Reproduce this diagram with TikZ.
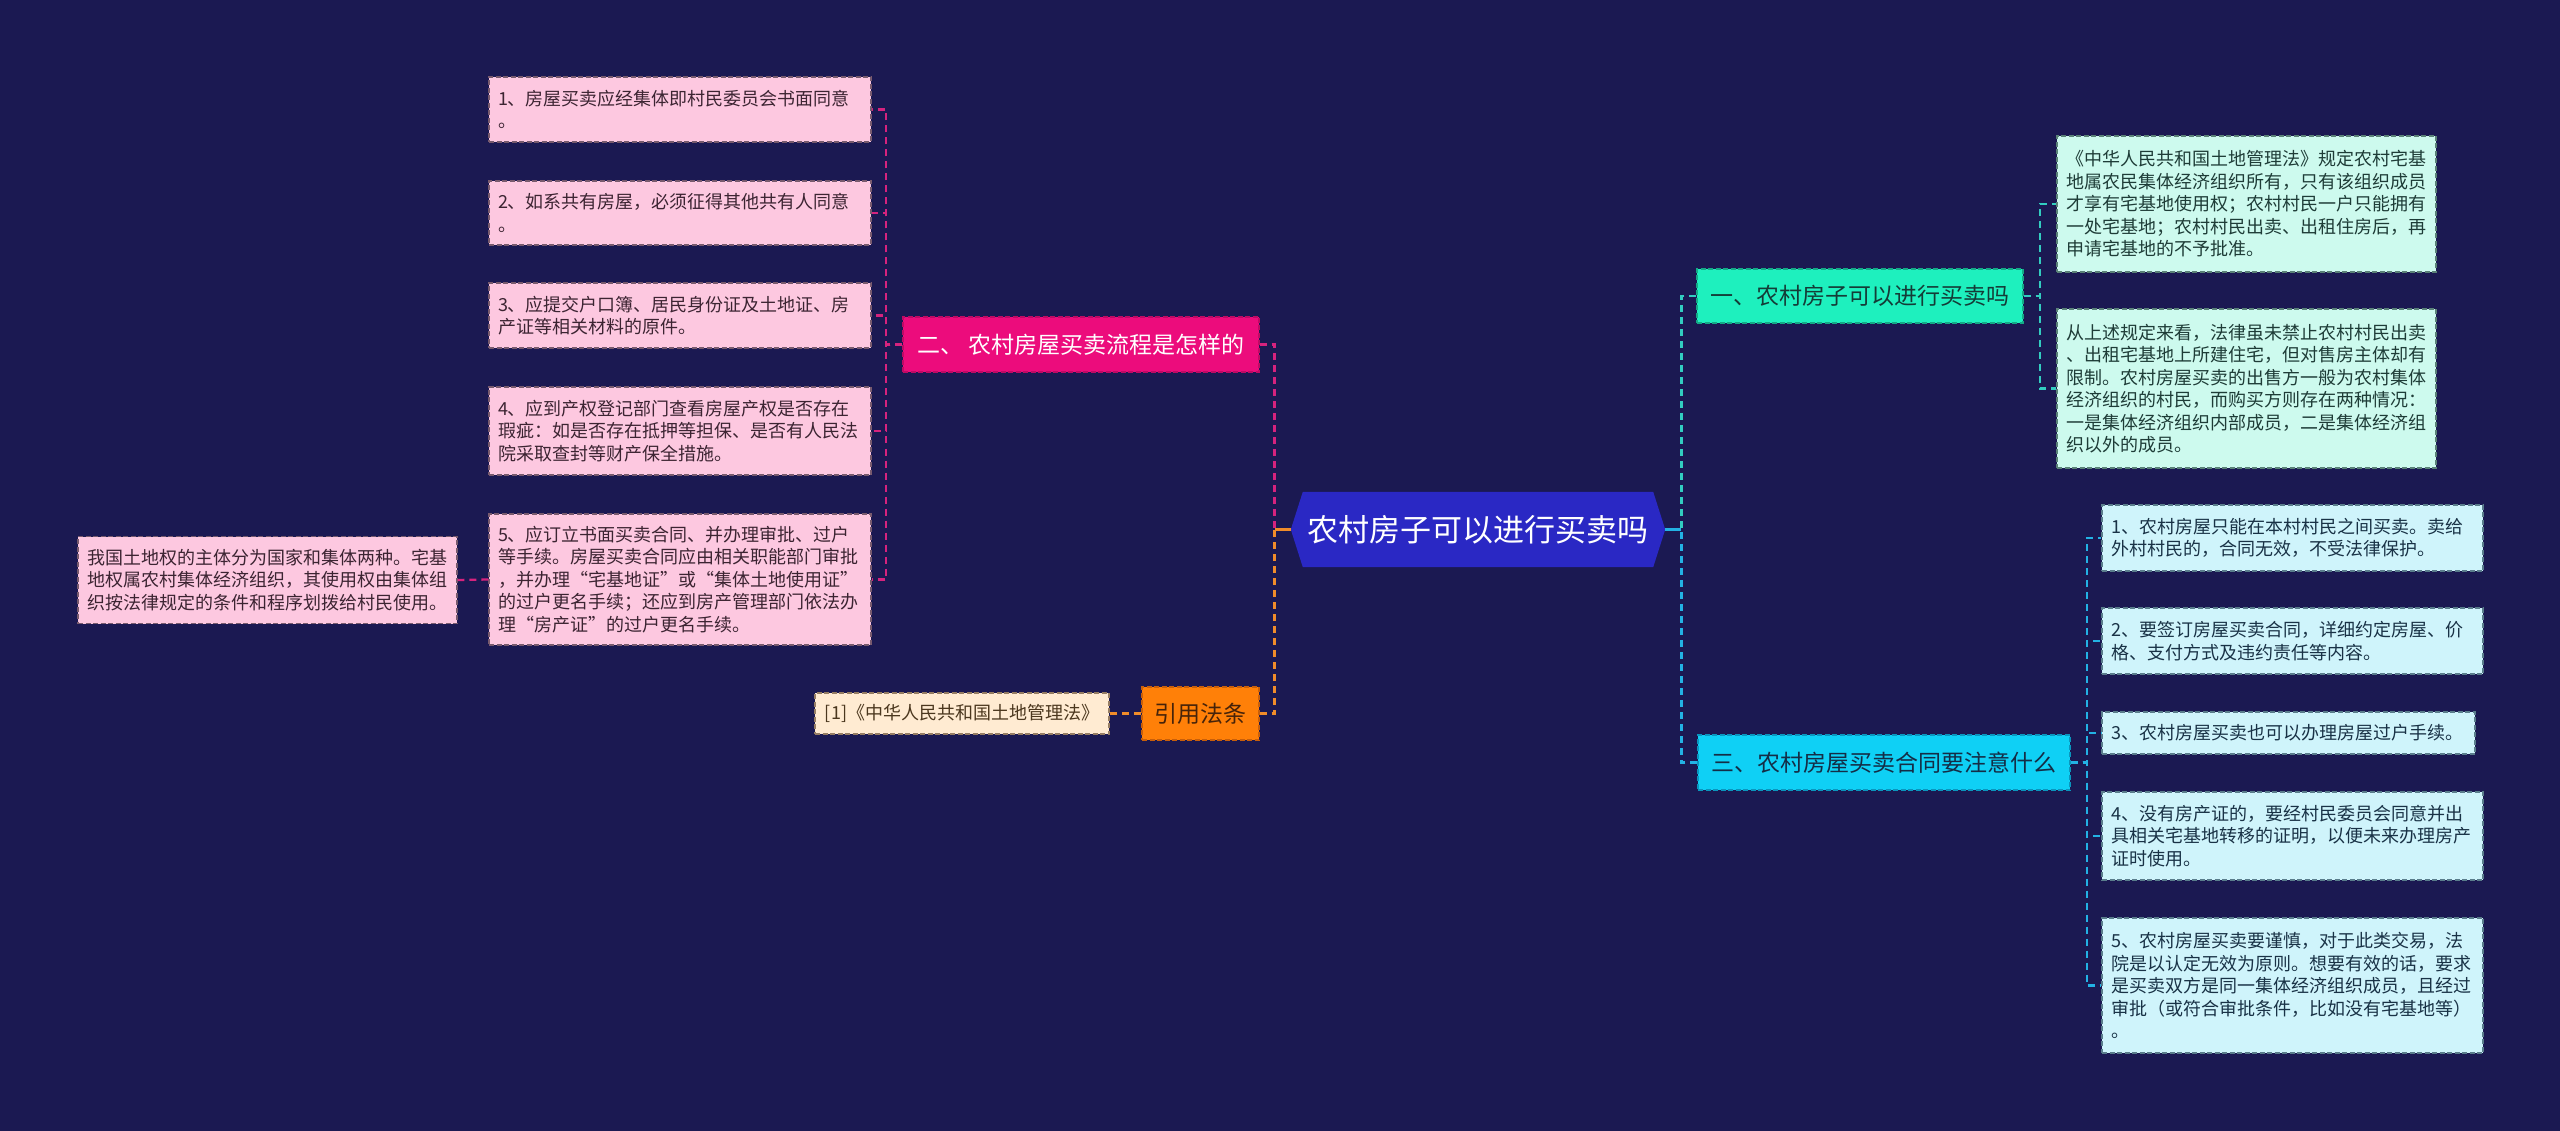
\documentclass[tikz,border=0pt]{standalone}
\usepackage{fontspec}
\setmainfont{Noto Sans CJK SC}
\usetikzlibrary{calc}
\definecolor{bgc}{RGB}{27,25,82}
\definecolor{rootc}{RGB}{42,40,196}
\definecolor{magf}{RGB}{236,12,124}
\definecolor{magd}{RGB}{190,10,100}
\definecolor{magl}{RGB}{214,35,126}
\definecolor{pinkf}{RGB}{253,200,224}
\definecolor{pinkd}{RGB}{120,90,110}
\definecolor{pinkt}{RGB}{60,36,50}
\definecolor{orf}{RGB}{255,128,8}
\definecolor{ord}{RGB}{200,95,10}
\definecolor{orl}{RGB}{240,140,42}
\definecolor{ort}{RGB}{70,35,10}
\definecolor{peachf}{RGB}{255,235,210}
\definecolor{peachd}{RGB}{150,125,100}
\definecolor{peacht}{RGB}{75,55,30}
\definecolor{tealf}{RGB}{30,240,190}
\definecolor{teald}{RGB}{20,170,135}
\definecolor{teall}{RGB}{50,205,192}
\definecolor{tealt}{RGB}{20,60,55}
\definecolor{mintf}{RGB}{205,250,238}
\definecolor{mintd}{RGB}{90,130,120}
\definecolor{mintt}{RGB}{30,60,55}
\definecolor{cyanf}{RGB}{15,208,245}
\definecolor{cyand}{RGB}{10,150,190}
\definecolor{cyanl}{RGB}{35,178,228}
\definecolor{cyant}{RGB}{20,45,70}
\definecolor{icef}{RGB}{207,244,251}
\definecolor{iced}{RGB}{90,125,140}
\definecolor{icet}{RGB}{25,50,70}
\pgfdeclarelayer{bgl}
\pgfdeclarelayer{midl}
\pgfsetlayers{bgl,midl,main}
\tikzset{
  leafbox/.style={draw, line width=1.2pt, dash pattern=on 5pt off 2.5pt, inner xsep=9pt, inner ysep=0pt,
    align=left, font=\fontsize{18pt}{22.5pt}\selectfont},
  pinkleaf/.style={leafbox, fill=pinkf, draw=pinkd, text=pinkt},
  mintleaf/.style={leafbox, fill=mintf, draw=mintd, text=mintt},
  iceleaf/.style={leafbox, fill=icef, draw=iced, text=icet},
  branchbox/.style={draw, line width=1.4pt, dash pattern=on 5pt off 2.5pt, inner sep=0pt,
    align=center, font=\fontsize{23pt}{28pt}\selectfont},
  conn/.style={line width=2.3pt, dash pattern=on 7pt off 5pt},
  mline/.style={conn, draw=magl},
  oline/.style={conn, draw=orl},
  tline/.style={conn, draw=teall},
  cline/.style={conn, draw=cyanl},
}
\begin{document}
\begin{tikzpicture}[x=1pt,y=-1pt]
\begin{pgfonlayer}{bgl}
\fill[bgc] (0,0) rectangle (2560,1131);
\end{pgfonlayer}
\useasboundingbox (0,0) rectangle (2560,1131);

% root
\node[inner sep=0pt, minimum width=350pt, minimum height=75pt, text=white,
  font=\fontsize{31pt}{36pt}\selectfont] (root) at (1478,529.5) {农村房子可以进行买卖吗};
\coordinate (rootL) at ($(root.west)+(-12,0)$);
\coordinate (rootR) at ($(root.east)+(12,0)$);
\begin{pgfonlayer}{midl}
\fill[rootc] (root.north west) -- (root.north east) -- (rootR) -- (root.south east)
  -- (root.south west) -- (rootL) -- cycle;
\end{pgfonlayer}

% left branch: magenta
\node[branchbox, fill=magf, draw=magd, text=white, minimum width=356pt, minimum height=55pt]
  (m) at (1081,344.5) {二、 农村房屋买卖流程是怎样的};
\node[pinkleaf, text width=364pt, minimum height=65pt] (L1) at (680,109.5)
  {1、房屋买卖应经集体即村民委员会书面同意\\。};
\node[pinkleaf, text width=364pt, minimum height=64pt] (L2) at (680,213)
  {2、如系共有房屋，必须征得其他共有人同意\\。};
\node[pinkleaf, text width=364pt, minimum height=65pt] (L3) at (680,315.5)
  {3、应提交户口簿、居民身份证及土地证、房\\产证等相关材料的原件。};
\node[pinkleaf, text width=364pt, minimum height=88pt] (L4) at (680,431)
  {4、应到产权登记部门查看房屋产权是否存在\\瑕疵：如是否存在抵押等担保、是否有人民法\\院采取查封等财产保全措施。};
\node[pinkleaf, text width=364pt, minimum height=131pt] (L5) at (680,579.5)
  {5、应订立书面买卖合同、并办理审批、过户\\等手续。房屋买卖合同应由相关职能部门审批\\，并办理“宅基地证”或“集体土地使用证”\\的过户更名手续；还应到房产管理部门依法办\\理“房产证”的过户更名手续。};
\node[pinkleaf, text width=361pt, minimum height=87pt] (L0) at (267.5,580)
  {我国土地权的主体分为国家和集体两种。宅基\\地权属农村集体经济组织，其使用权由集体组\\织按法律规定的条件和程序划拨给村民使用。};

% left branch: orange
\node[branchbox, fill=orf, draw=ord, text=ort, minimum width=117pt, minimum height=53pt]
  (law) at (1200.5,713.5) {引用法条};
\node[leafbox, fill=peachf, draw=peachd, text=peacht, align=center, minimum width=294pt, minimum height=41pt]
  (lawleaf) at (962,713.5) {[1]《中华人民共和国土地管理法》};

% right branch: teal
\node[branchbox, fill=tealf, draw=teald, text=tealt, minimum width=326pt, minimum height=54pt]
  (t) at (1860,296) {一、农村房子可以进行买卖吗};
\node[mintleaf, text width=361pt, minimum height=136pt] (A) at (2246.5,204)
  {《中华人民共和国土地管理法》规定农村宅基\\地属农民集体经济组织所有，只有该组织成员\\才享有宅基地使用权；农村村民一户只能拥有\\一处宅基地；农村村民出卖、出租住房后，再\\申请宅基地的不予批准。};
\node[mintleaf, text width=361pt, minimum height=159pt] (B) at (2246.5,388.5)
  {从上述规定来看，法律虽未禁止农村村民出卖\\、出租宅基地上所建住宅，但对售房主体却有\\限制。农村房屋买卖的出售方一般为农村集体\\经济组织的村民，而购买方则存在两种情况：\\一是集体经济组织内部成员，二是集体经济组\\织以外的成员。};

% right branch: cyan
\node[branchbox, fill=cyanf, draw=cyand, text=cyant, minimum width=372pt, minimum height=55pt]
  (c) at (1884,762.5) {三、农村房屋买卖合同要注意什么};
\node[iceleaf, text width=363pt, minimum height=66pt] (R1) at (2292.5,538)
  {1、农村房屋只能在本村村民之间买卖。卖给\\外村村民的，合同无效，不受法律保护。};
\node[iceleaf, text width=363pt, minimum height=66pt] (R2) at (2292.5,641)
  {2、要签订房屋买卖合同，详细约定房屋、价\\格、支付方式及违约责任等内容。};
\node[iceleaf, text width=355pt, minimum height=42pt] (R3) at (2288.5,733)
  {3、农村房屋买卖也可以办理房屋过户手续。};
\node[iceleaf, text width=363pt, minimum height=88pt] (R4) at (2292.5,836)
  {4、没有房产证的，要经村民委员会同意并出\\具相关宅基地转移的证明，以便未来办理房产\\证时使用。};
\node[iceleaf, text width=363pt, minimum height=135pt] (R5) at (2292.5,985.5)
  {5、农村房屋买卖要谨慎，对于此类交易，法\\院是以认定无效为原则。想要有效的话，要求\\是买卖双方是同一集体经济组织成员，且经过\\审批（或符合审批条件，比如没有宅基地等）\\。};

% connectors: root
\coordinate (jl) at ($(rootL)+(-16,0)$);
\coordinate (jr) at ($(rootR)+(16,0)$);
\draw[line width=2.8pt, draw=orl] (rootL) -- (jl);
\draw[line width=2.8pt, draw=cyanl] (rootR) -- (jr);
\draw[mline, line width=2.8pt] (m.east) -| (jl);
\draw[oline, line width=2.8pt] (law.east) -| (jl);
\draw[tline, line width=2.8pt] (t.west) -| (jr);
\draw[cline, line width=2.8pt] (c.west) -| (jr);

% connectors: magenta branch
\foreach \n in {L1,L2,L3,L4,L5}
  \draw[mline] (m.west) -- ++(-16,0) |- (\n.east);
\draw[mline] (L5.west) -- (L0.east);
% orange branch
\draw[oline] (law.west) -- (lawleaf.east);
% teal branch
\foreach \n in {A,B}
  \draw[tline] (t.east) -- ++(16,0) |- (\n.west);
% cyan branch
\foreach \n in {R1,R2,R3,R4,R5}
  \draw[cline] (c.east) -- ++(16,0) |- (\n.west);
\end{tikzpicture}
\end{document}
